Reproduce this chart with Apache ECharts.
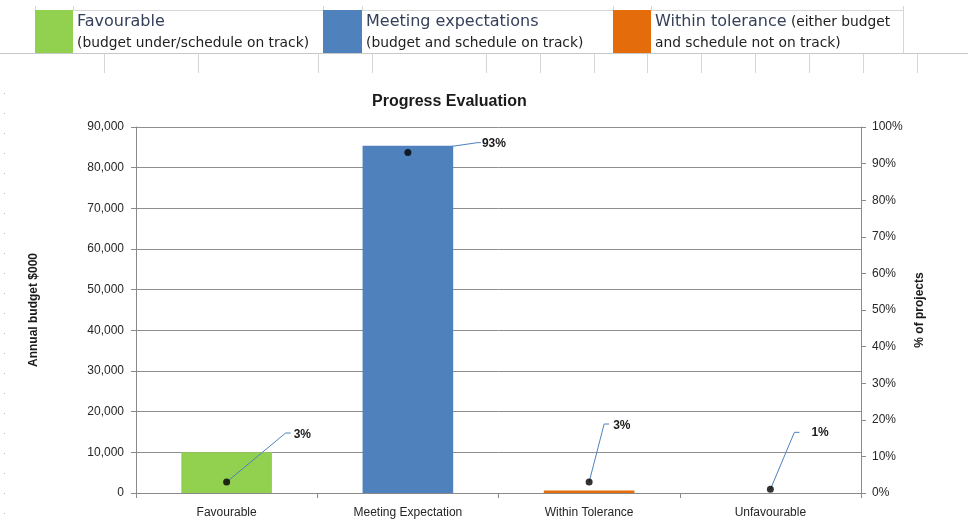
<!DOCTYPE html>
<html>
<head>
<meta charset="utf-8">
<script src="https://cdn.jsdelivr.net/npm/echarts@6/dist/echarts.min.js"></script>
<style>
  html, body { margin: 0; padding: 0; background: #ffffff; }
  #chart { width: 968px; height: 530px; }
</style>
</head>
<body>
<div id="chart"></div>
<script>
// Categories and values
const categories = ['Favourable', 'Meeting Expectation', 'Within Tolerance', 'Unfavourable'];
const budgetValues = [10000, 85400, 600, 0];      // Annual budget $000
const projectShare = [3, 93, 3, 1];               // % of projects
const budgetTicks = { min: 0, max: 90000, interval: 10000 };
const shareTicks = { min: 0, max: 100, interval: 10 };

// Key entries shown above the chart
const keyTitles = ['Favourable', 'Meeting expectations', 'Within tolerance'];
const keyNotes = [
  ['(budget under/schedule on track)'],
  ['(budget and schedule on track)'],
  [' (either budget', 'and schedule not on track)']
];

const barColors = ['#92d050', '#4f81bd', '#e46c0a', '#7f7f7f'];

// Leader line geometry for the % labels, relative to each point:
// [elbow dx, elbow dy, end dx, label dx, label dy]
const leaderShapes = [
  [59, -49, 64, 67, -47],
  [70, -10, 73, 74, -9],
  [15, -58, 20, 24, -56],
  [24, -57, 29, 41, -57]
];

const FONT = '"Liberation Sans", Arial, sans-serif';
const KEY_FONT = '"DejaVu Sans", "Noto Sans", sans-serif';

const chart = echarts.init(document.getElementById('chart'), null, { renderer: 'canvas' });

// Spreadsheet-style frame with the colour key
const graphics = [];
const grey = '#d6d6d6';
graphics.push({ type: 'line', shape: { x1: 35, y1: 10.5, x2: 903, y2: 10.5 }, style: { stroke: grey, lineWidth: 1 } });
graphics.push({ type: 'line', shape: { x1: 0, y1: 53.5, x2: 968, y2: 53.5 }, style: { stroke: '#c8c8c8', lineWidth: 1 } });
graphics.push({ type: 'line', shape: { x1: 903.5, y1: 6, x2: 903.5, y2: 53 }, style: { stroke: grey, lineWidth: 1 } });
[35, 73, 323, 362, 613, 651].forEach(function (x) {
  graphics.push({ type: 'line', shape: { x1: x + 0.5, y1: 6, x2: x + 0.5, y2: 10 }, style: { stroke: grey, lineWidth: 1 } });
});
[104, 198, 318, 372, 486, 540, 594, 647, 701, 755, 809, 863, 917].forEach(function (x) {
  graphics.push({ type: 'line', shape: { x1: x + 0.5, y1: 54, x2: x + 0.5, y2: 73 }, style: { stroke: grey, lineWidth: 1 } });
});
// faint row markers down the left margin
for (let y = 93; y <= 515; y += 20) {
  graphics.push({ type: 'rect', shape: { x: 4, y: y, width: 1, height: 1 }, style: { fill: '#b8b8b8' } });
}

const keyBoxes = [[35, 73], [323, 362], [613, 651]];
keyBoxes.forEach(function (b, i) {
  graphics.push({ type: 'rect', shape: { x: b[0], y: 10, width: b[1] - b[0], height: 43 }, style: { fill: barColors[i] } });
  const tx = b[1] + 4;
  if (i < 2) {
    graphics.push({ type: 'text', x: tx, y: 22, style: { text: keyTitles[i], font: '16px ' + KEY_FONT, fill: '#35405a', verticalAlign: 'middle' } });
    graphics.push({ type: 'text', x: tx, y: 43, style: { text: keyNotes[i][0], font: '13.8px ' + KEY_FONT, fill: '#222222', verticalAlign: 'middle' } });
  } else {
    graphics.push({
      type: 'text', x: tx, y: 22,
      style: {
        text: '{a|' + keyTitles[i] + '}{b|' + keyNotes[i][0] + '}',
        verticalAlign: 'middle',
        rich: {
          a: { font: '16px ' + KEY_FONT, fill: '#35405a' },
          b: { font: '13.8px ' + KEY_FONT, fill: '#222222' }
        }
      }
    });
    graphics.push({ type: 'text', x: tx, y: 43, style: { text: keyNotes[i][1], font: '13.8px ' + KEY_FONT, fill: '#222222', verticalAlign: 'middle' } });
  }
});

chart.setOption({
  animation: false,
  backgroundColor: '#ffffff',
  title: {
    text: 'Progress Evaluation',
    left: 367,
    top: 89,
    textStyle: { fontFamily: FONT, fontSize: 16, fontWeight: 'bold', color: '#1a1a1a' }
  },
  graphic: graphics,
  grid: { left: 136, right: 107, top: 127, bottom: 37 },
  xAxis: {
    type: 'category',
    data: categories,
    axisLine: { lineStyle: { color: '#8a8a8a', width: 1 } },
    axisTick: { show: true, length: 5, lineStyle: { color: '#8a8a8a' } },
    axisLabel: { fontFamily: FONT, fontSize: 12, color: '#262626', margin: 14 }
  },
  yAxis: [
    {
      type: 'value',
      min: budgetTicks.min, max: budgetTicks.max, interval: budgetTicks.interval,
      name: 'Annual budget $000',
      nameLocation: 'middle',
      nameRotate: 90,
      nameGap: 96,
      nameTextStyle: { fontFamily: FONT, fontSize: 12, fontWeight: 'bold', color: '#1a1a1a' },
      axisLine: { show: true, lineStyle: { color: '#8a8a8a' } },
      axisTick: { show: true, length: 5, lineStyle: { color: '#8a8a8a' } },
      axisLabel: {
        fontFamily: FONT, fontSize: 12, color: '#262626', margin: 12,
        formatter: function (v) { return v.toLocaleString('en-US'); }
      },
      splitLine: { show: true, lineStyle: { color: '#8e8e8e', width: 1 } }
    },
    {
      type: 'value',
      position: 'right',
      min: shareTicks.min, max: shareTicks.max, interval: shareTicks.interval,
      name: '% of projects',
      nameLocation: 'middle',
      nameRotate: 90,
      nameGap: 48,
      nameTextStyle: { fontFamily: FONT, fontSize: 12, fontWeight: 'bold', color: '#1a1a1a' },
      axisLine: { show: true, lineStyle: { color: '#8a8a8a' } },
      axisTick: { show: true, length: 5, lineStyle: { color: '#8a8a8a' } },
      axisLabel: { fontFamily: FONT, fontSize: 12, color: '#262626', margin: 11, formatter: '{value}%' },
      splitLine: { show: false }
    }
  ],
  series: [
    {
      name: 'Annual budget',
      type: 'bar',
      yAxisIndex: 0,
      barWidth: '50%',
      data: budgetValues.map(function (v, i) { return { value: v, itemStyle: { color: barColors[i] } }; }),
      z: 2
    },
    {
      // leader lines and % labels, anchored on each point through the axes
      name: '% labels',
      type: 'custom',
      yAxisIndex: 1,
      data: projectShare.map(function (v, i) { return [i, v]; }),
      encode: { x: 0, y: 1 },
      z: 4,
      silent: true,
      renderItem: function (params, api) {
        const p = api.coord([api.value(0), api.value(1)]);
        const s = leaderShapes[params.dataIndex];
        return {
          type: 'group',
          children: [
            {
              type: 'polyline',
              shape: { points: [[p[0], p[1]], [p[0] + s[0], p[1] + s[1]], [p[0] + s[2], p[1] + s[1]]] },
              style: { stroke: '#4f81bd', lineWidth: 1, fill: null }
            },
            {
              type: 'text',
              x: p[0] + s[3],
              y: p[1] + s[4],
              style: {
                text: api.value(1) + '%',
                font: 'bold 12px ' + FONT,
                fill: '#1a1a1a',
                verticalAlign: 'middle',
                align: 'left'
              }
            }
          ]
        };
      }
    },
    {
      name: '% of projects',
      type: 'scatter',
      yAxisIndex: 1,
      symbol: 'circle',
      symbolSize: 7,
      itemStyle: { color: '#000000' },
      data: projectShare,
      z: 5
    }
  ]
});
</script>
</body>
</html>
